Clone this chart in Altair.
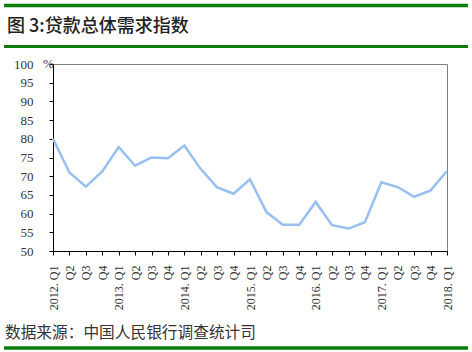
import altair as alt
import pandas as pd

quarters = ["2012. Q1", "Q2", "Q3", "Q4",
            "2013. Q1", "Q2 ", "Q3 ", "Q4 ",
            "2014. Q1", "Q2  ", "Q3  ", "Q4  ",
            "2015. Q1", "Q2   ", "Q3   ", "Q4   ",
            "2016. Q1", "Q2    ", "Q3    ", "Q4    ",
            "2017. Q1", "Q2     ", "Q3     ", "Q4     ",
            "2018. Q1"]
values = [80.0, 71.0, 67.2, 71.3,
          77.8, 72.8, 75.0, 74.8,
          78.2, 71.9, 67.0, 65.3,
          69.2, 60.4, 57.0, 57.0,
          63.1, 56.9, 56.0, 57.7,
          68.4, 67.1, 64.5, 66.2,
          71.4]
y_ticks = [50, 55, 60, 65, 70, 75, 80, 85, 90, 95, 100]
title_text = "图 3:贷款总体需求指数"
source_text = "数据来源：中国人民银行调查统计司"
unit_text = "%"

df = pd.DataFrame({"q": quarters, "v": values})
one = pd.DataFrame({"a": [0]})

W, H = 394, 187
GREEN = "#0a7d0a"
TICK_FONT = "Liberation Serif"
CJK = "Noto Sans CJK SC"

line = alt.Chart(df).mark_line(color="#97C0F0", strokeWidth=2.5).encode(
    x=alt.X("q:N", sort=None, scale=alt.Scale(type="point", padding=0),
            axis=alt.Axis(title=None, labelAngle=270, labelFont=TICK_FONT,
                          labelFontSize=12, labelColor="#333", domainColor="#000",
                          tickColor="#000", tickSize=4, labelPadding=10,
                          grid=False, labelOverlap=False)),
    y=alt.Y("v:Q", scale=alt.Scale(domain=[50, 100], nice=False, zero=False),
            axis=alt.Axis(title=None, values=y_ticks, labelFont=TICK_FONT,
                          labelFontSize=13, labelColor="#333", domainColor="#000",
                          tickColor="#000", tickSize=4, labelPadding=16,
                          grid=False)),
)

def rule(x1, x2, y, w):
    return alt.Chart(one).mark_rule(color=GREEN, strokeWidth=w).encode(
        x=alt.value(x1), x2=alt.value(x2), y=alt.value(y))

top1 = rule(-49, 415, -58.5, 3.5)
top2 = rule(-49, 415, -17.5, 3)
bot = rule(-49, 415, 284, 3.5)

title = alt.Chart(one).mark_text(align="left", baseline="middle", font=CJK,
                                 fontSize=18, fontWeight=500, color="#222").encode(
    x=alt.value(-46), y=alt.value(-37), text=alt.value(title_text))
source = alt.Chart(one).mark_text(align="left", baseline="middle", font=CJK,
                                  fontSize=15.7, color="#333").encode(
    x=alt.value(-48), y=alt.value(269), text=alt.value(source_text))
unit = alt.Chart(one).mark_text(align="left", baseline="middle", font=TICK_FONT,
                                fontSize=13, color="#333").encode(
    x=alt.value(-10), y=alt.value(0), text=alt.value(unit_text))

chart = alt.layer(line, top1, top2, bot, title, source, unit).properties(
    width=W, height=H,
    autosize=alt.AutoSizeParams(type="none"),
    padding={"left": 53, "top": 64, "right": 25, "bottom": 101},
    background="white",
).configure_view(stroke="#808080", strokeWidth=1)

chart.save("out.html", embed_options={"renderer": "svg", "actions": False})
